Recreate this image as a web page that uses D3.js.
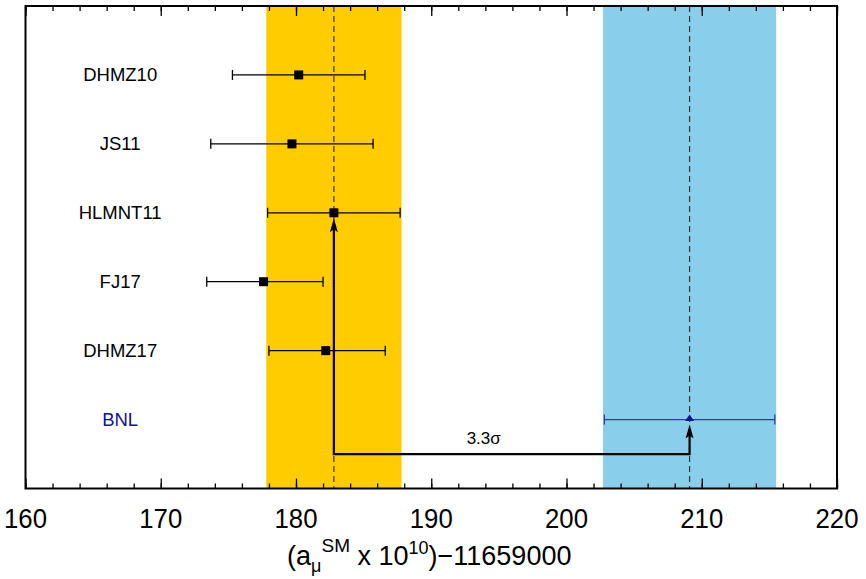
<!DOCTYPE html>
<html><head><meta charset="utf-8">
<script src="https://cdn.jsdelivr.net/npm/d3@7"></script>
<style>body{margin:0;background:#fff}svg{display:block}text{font-family:"Liberation Sans",Arial,Helvetica,sans-serif}</style>
</head><body>
<svg id="c" width="866" height="579"></svg>
<script>
const labels = ["DHMZ10","JS11","HLMNT11","FJ17","DHMZ17","BNL"];
const values = [180.2, 179.7, 182.8, 177.6, 182.2, 209.1];
const errLo  = [4.9, 6.0, 4.9, 4.2, 4.2, 6.3];
const errHi  = [4.9, 6.0, 4.9, 4.4, 4.4, 6.3];
const theoryBand = [177.8, 182.8, 187.8];
const exptBand = [202.7, 209.1, 215.5];
const sigmaLabel = "3.3σ";
const xTicks = [160,170,180,190,200,210,220];

const W=866,H=579, L=25.5, R=837, T=6, B=488.5;
const svg=d3.select("#c");
const x=d3.scaleLinear().domain([160,220]).range([L,R]);
const y=d3.scaleLinear().domain([0,7]).range([T,B]);

// bands
svg.append("rect").attr("x",x(theoryBand[0])).attr("y",T).attr("width",x(theoryBand[2])-x(theoryBand[0])).attr("height",B-T).attr("fill","#ffcc00");
svg.append("rect").attr("x",x(exptBand[0])).attr("y",T).attr("width",x(exptBand[2])-x(exptBand[0])).attr("height",B-T).attr("fill","#89cfeb");
[theoryBand[1],exptBand[1]].forEach(v=>{
  svg.append("line").attr("x1",x(v)).attr("x2",x(v)).attr("y1",T).attr("y2",B)
    .attr("stroke","#333").attr("stroke-width",1.2).attr("stroke-dasharray","6,4");
});

// axes (ticks inward top and bottom)
const minor=d3.range(160,221,2);
const gB=svg.append("g").attr("transform",`translate(0,${B})`)
  .call(d3.axisTop(x).tickValues(minor).tickSize(5).tickFormat(""));
const gB2=svg.append("g").attr("transform",`translate(0,${B})`)
  .call(d3.axisTop(x).tickValues(xTicks).tickSize(10).tickFormat(""));
const gT=svg.append("g").attr("transform",`translate(0,${T})`)
  .call(d3.axisBottom(x).tickValues(minor).tickSize(5).tickFormat(""));
const gT2=svg.append("g").attr("transform",`translate(0,${T})`)
  .call(d3.axisBottom(x).tickValues(xTicks).tickSize(10).tickFormat(""));
[gB,gB2,gT,gT2].forEach(g=>{g.select(".domain").remove();g.selectAll("line").attr("stroke","#000").attr("stroke-width",1.3);});
svg.append("rect").attr("x",L).attr("y",T).attr("width",R-L).attr("height",B-T)
  .attr("fill","none").attr("stroke","#000").attr("stroke-width",2);

// tick labels
svg.append("g").selectAll("text").data(xTicks).join("text")
  .attr("transform",d=>`translate(${x(d)},${B+39}) scale(0.92,1)`)
  .attr("text-anchor","middle").attr("font-size",28).text(d=>d);

// axis title
const tt=svg.append("text").attr("transform",`translate(${(L+R)/2-2},${B+76})`)
  .attr("text-anchor","middle").attr("font-size",27);
tt.append("tspan").text("(a");
tt.append("tspan").attr("font-size",18).attr("dy",7).text("μ");
tt.append("tspan").attr("font-size",19).attr("dy",-20).text("SM");
tt.append("tspan").attr("dy",13).text(" x 10");
tt.append("tspan").attr("font-size",18).attr("dy",-11).text("10");
tt.append("tspan").attr("dy",11).text(")−11659000");

// row labels
svg.append("g").selectAll("text").data(labels).join("text")
  .attr("x",x(167)).attr("y",(d,i)=>y(i+1)+6.5).attr("text-anchor","middle")
  .attr("font-size",18.5).attr("fill",(d,i)=>i===5?"#10109a":"#000").text(d=>d);

// error bars
const rows=labels.map((l,i)=>({l,i,v:values[i],lo:values[i]-errLo[i],hi:values[i]+errHi[i]}));
const g=svg.append("g");
rows.forEach(d=>{
  const c=d.i===5?"#2b3f9e":"#000";
  const yy=y(d.i+1);
  g.append("line").attr("x1",x(d.lo)).attr("x2",x(d.hi)).attr("y1",yy).attr("y2",yy).attr("stroke",c).attr("stroke-width",1.3);
  [d.lo,d.hi].forEach(e=>g.append("line").attr("x1",x(e)).attr("x2",x(e)).attr("y1",yy-5).attr("y2",yy+5).attr("stroke",c).attr("stroke-width",1.3));
  if(d.i===5){
    g.append("path").attr("d",`M${x(d.v)-4.5},${yy+1.5}L${x(d.v)},${yy-5}L${x(d.v)+4.5},${yy+1.5}Z`).attr("fill","#14148c");
  } else {
    g.append("rect").attr("x",x(d.v)-4.5).attr("y",yy-4.5).attr("width",9).attr("height",9).attr("fill","#000");
  }
});

// arrow
const ya=y(6.5);
const xa=x(values[2]), xb=x(values[5]);
const tipA=y(3)+5.5, tipB=y(6)+5;
svg.append("path").attr("d",`M${xa},${tipA+8}L${xa},${ya}L${xb},${ya}L${xb},${tipB+8}`)
  .attr("fill","none").attr("stroke","#000").attr("stroke-width",2.2);
function head(xx,ty){
  svg.append("path").attr("d",`M${xx},${ty}L${xx+4},${ty+14}L${xx},${ty+11}L${xx-4},${ty+14}Z`).attr("fill","#000");
}
head(xa,tipA); head(xb,tipB);
svg.append("text").attr("x",(xa+xb)/2-28).attr("y",ya-10).attr("text-anchor","middle").attr("font-size",17).text(sigmaLabel);
</script>
</body></html>
